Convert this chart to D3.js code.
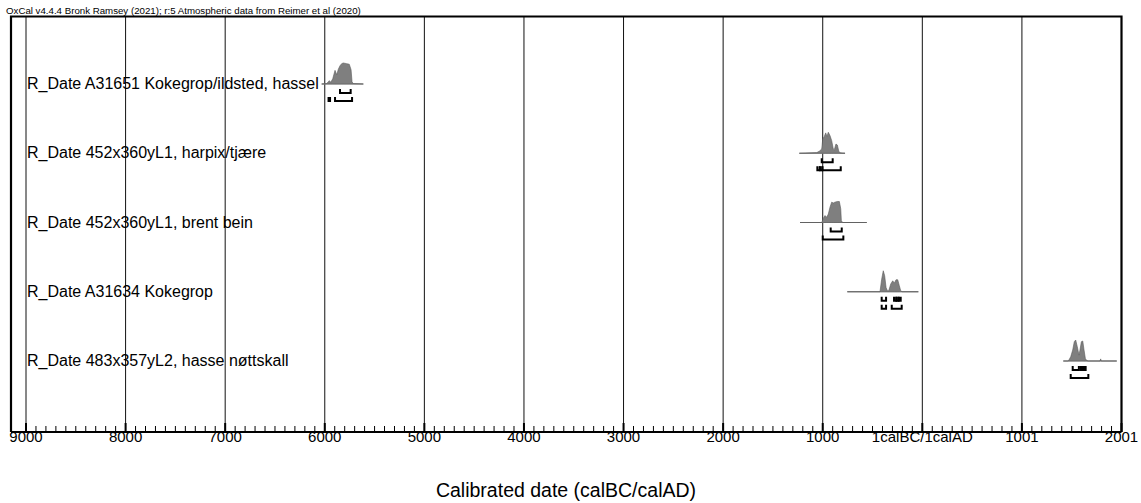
<!DOCTYPE html>
<html><head><meta charset="utf-8">
<script src="https://cdn.jsdelivr.net/npm/d3@7"></script>
<style>
body{margin:0;background:#fff}
svg{display:block}
text{font-family:"Liberation Sans",Arial,Helvetica,sans-serif;fill:#000}
</style>
</head><body>
<svg id="chart" width="1141" height="503"></svg>
<script>
// ---------- data ----------
const headerText = "OxCal v4.4.4 Bronk Ramsey (2021); r:5 Atmospheric data from Reimer et al (2020)";
const axisTitle = "Calibrated date (calBC/calAD)";
const tickValues = [-9000,-8000,-7000,-6000,-5000,-4000,-3000,-2000,-1000,0,1000,2000];
const tickLabels = ["9000","8000","7000","6000","5000","4000","3000","2000","1000","1calBC/1calAD","1001","2001"];
const minorStep = 100;

const sampleNames = [
  "R_Date A31651 Kokegrop/ildsted, hassel",
  "R_Date 452x360yL1, harpix/tjære",
  "R_Date 452x360yL1, brent bein",
  "R_Date A31634 Kokegrop",
  "R_Date 483x357yL2, hasse nøttskall"
];
// calibrated probability distributions: [year (negative = calBC), relative probability]
const dist1 = [[-6031,0],[-5981,0.02],[-5954,0.16],[-5940,0.08],[-5920,0.25],[-5897,0.65],[-5880,0.44],[-5864,0.7],[-5847,0.87],[-5830,0.97],[-5814,1.0],[-5780,0.97],[-5754,0.94],[-5736,0.68],[-5726,0.1],[-5713,0.02],[-5613,0]];
const dist2 = [[-1235,0],[-1060,0.03],[-1034,0.1],[-1010,0.2],[-1000,0.68],[-984,0.8],[-970,0.97],[-957,0.8],[-944,1.0],[-927,0.84],[-910,0.6],[-894,0.2],[-884,0.16],[-867,0.44],[-853,0.39],[-839,0.1],[-826,0.02],[-776,0]];
const dist3 = [[-1228,0],[-1010,0],[-994,0.2],[-977,0.33],[-960,0.25],[-944,0.4],[-927,0.73],[-910,0.97],[-894,0.93],[-877,0.97],[-853,1.0],[-833,1.0],[-819,0.65],[-813,0.08],[-799,0],[-558,0]];
const dist4 = [[-753,0],[-425,0],[-408,0.6],[-392,1.0],[-378,0.76],[-364,0.2],[-351,0.05],[-337,0.05],[-317,0.37],[-297,0.52],[-281,0.41],[-264,0.57],[-247,0.57],[-231,0.29],[-217,0.05],[-204,0],[-40,0]];
const dist5 = [[1416,0],[1466,0],[1490,0.2],[1510,0.52],[1526,0.92],[1540,1.0],[1556,0.68],[1573,0.28],[1583,0.52],[1597,0.92],[1611,0.95],[1624,0.52],[1637,0.12],[1651,0.02],[1667,0],[1784,0],[1791,0.1],[1797,0],[1952,0]];
const distributions = [dist1, dist2, dist3, dist4, dist5];

// 68.3% and 95.4% highest posterior density ranges
const range68 = [
  [[-5847,-5740]],
  [[-1010,-900]],
  [[-920,-809]],
  [[-408,-364],[-284,-262],[-260,-239],[-237,-217]],
  [[1510,1572],[1588,1604],[1606,1622],[1624,1640]]
];
const range95 = [
  [[-5962,-5947],[-5897,-5726]],
  [[-1054,-1030],[-1028,-1005],[-1003,-819]],
  [[-1000,-793]],
  [[-408,-364],[-307,-207]],
  [[1490,1667]]
];

// ---------- drawing ----------
const svg = d3.select("#chart");
const x = d3.scaleLinear().domain([-9000, 2000]).range([26, 1121.5]);
const y = d3.scalePoint().domain(sampleNames).range([84, 361]);
const h = d3.scaleLinear().domain([0, 1]).range([0, 21]);

const frameLeft = 11, frameTop = 16.5, axisY = 432, frameRight = x(2000);

// header
svg.append("text").attr("x", 6).attr("y", 14).style("font-size", "9.7px").text(headerText);

// gridlines
svg.append("g").selectAll("line").data(tickValues).join("line")
  .attr("x1", d => x(d)).attr("x2", d => x(d))
  .attr("y1", frameTop).attr("y2", axisY)
  .attr("stroke", "#111").attr("stroke-width", 1);

// sample labels
svg.append("g").selectAll("text").data(sampleNames).join("text")
  .attr("x", 27).attr("y", d => y(d) + 5)
  .style("font-size", "16px").text(d => d);

// distributions
const area = d3.area().x(d => x(d[0])).y0(0).y1(d => -h(d[1]));
sampleNames.forEach((name, i) => {
  const g = svg.append("g").attr("transform", `translate(0,${y(name)})`);
  const ext = d3.extent(distributions[i], d => d[0]);
  g.append("line").attr("x1", x(ext[0])).attr("x2", x(ext[1]))
    .attr("y1", 0).attr("y2", 0).attr("stroke", "#8c8c8c").attr("stroke-width", 1);
  g.append("path").datum(distributions[i]).attr("d", area)
    .attr("fill", "#7f7f7f").attr("stroke", "#5a5a5a").attr("stroke-width", 0.6);
  const bracket = (r, yy) => `M${x(r[0])},${yy - 4}V${yy}H${x(r[1])}V${yy - 4}`;
  g.selectAll("path.r68").data(range68[i]).join("path").attr("class", "r68")
    .attr("d", r => bracket(r, 9)).attr("fill", "none").attr("stroke", "#000").attr("stroke-width", 2);
  g.selectAll("path.r95").data(range95[i]).join("path").attr("class", "r95")
    .attr("d", r => bracket(r, 17)).attr("fill", "none").attr("stroke", "#000").attr("stroke-width", 2);
});

// frame
svg.append("path")
  .attr("d", `M${frameLeft},${axisY}V${frameTop}H${frameRight}V${axisY}`)
  .attr("fill", "none").attr("stroke", "#000").attr("stroke-width", 2.2);

// axis
const axisG = svg.append("g");
axisG.append("line").attr("x1", frameLeft).attr("x2", frameRight)
  .attr("y1", axisY).attr("y2", axisY).attr("stroke", "#000").attr("stroke-width", 2);
const minors = d3.range(-9000, 2001, minorStep).filter(v => v % 1000 !== 0);
axisG.selectAll("line.minor").data(minors).join("line").attr("class", "minor")
  .attr("x1", d => x(d)).attr("x2", d => x(d))
  .attr("y1", axisY - 6).attr("y2", axisY).attr("stroke", "#000").attr("stroke-width", 1);
axisG.selectAll("line.major").data(tickValues).join("line").attr("class", "major")
  .attr("x1", d => x(d)).attr("x2", d => x(d))
  .attr("y1", axisY - 9).attr("y2", axisY).attr("stroke", "#000").attr("stroke-width", 2);
axisG.selectAll("text").data(tickValues).join("text")
  .attr("x", d => x(d)).attr("y", axisY + 10).attr("text-anchor", "middle")
  .style("font-size", "15px").text((d, i) => tickLabels[i]);

// axis title
svg.append("text").attr("x", 566).attr("y", 497).attr("text-anchor", "middle")
  .style("font-size", "19.5px").text(axisTitle);
</script>
</body></html>
